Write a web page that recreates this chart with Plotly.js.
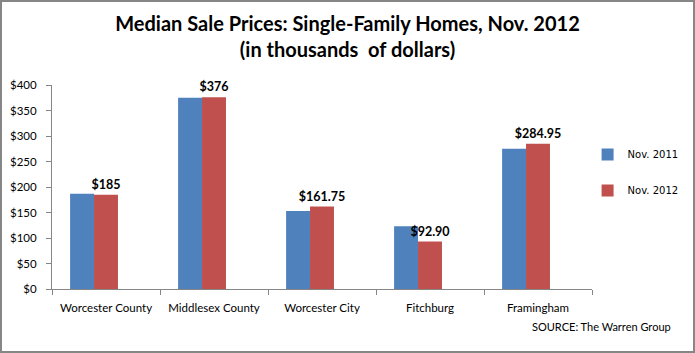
<!DOCTYPE html>
<html>
<head>
<meta charset="utf-8">
<script src="https://cdn.plot.ly/plotly-3.0.1.min.js"></script>
<style>
  html, body { margin: 0; padding: 0; background: #fff; }
  #wrap { position: relative; width: 695px; height: 353px; }
  #chart { position: absolute; left: 0; top: 0; width: 695px; height: 353px; }
  #frame { position: absolute; left: 0; top: 0; width: 695px; height: 353px; box-sizing: border-box;
           border: 2px solid #868686; pointer-events: none; }
</style>
</head>
<body>
<div id="wrap"><div id="chart"></div><div id="frame"></div></div>
<script>
const categories = ["Worcester County", "Middlesex County", "Worcester City", "Fitchburg", "Framingham"];
const nov2011 = [187, 375, 153, 123, 275];
const nov2012 = [185, 376, 161.75, 92.9, 284.95];
const nov2012Labels = ["$185", "$376", "$161.75", "$92.90", "$284.95"];
const emptySeries = [null, null, null, null, null];
const yTickVals = [0, 50, 100, 150, 200, 250, 300, 350, 400];
const yTickText = ["$0", "$50", "$100", "$150", "$200", "$250", "$300", "$350", "$400"];

const baseFont = "Lato, 'Liberation Sans', sans-serif";

const traces = [
  { type: "bar", name: "Nov. 2011", x: categories, y: nov2011, legendgroup: "a",
    marker: { color: "#4F81BD" }, hoverinfo: "skip" },
  { type: "bar", name: "Nov. 2012", x: categories, y: nov2012, legendgroup: "b",
    marker: { color: "#C0504D" }, text: nov2012Labels, textposition: "outside",
    constraintext: "none", cliponaxis: false,
    textfont: { family: baseFont, size: 12.5, color: "#000", weight: "bold" },
    hoverinfo: "skip" },
  { type: "bar", name: "", x: categories, y: emptySeries, showlegend: false, legendgroup: "c",
    marker: { color: "rgba(0,0,0,0)" }, hoverinfo: "skip" }
];

const layout = {
  width: 695, height: 353,
  margin: { l: 52, r: 102, t: 85, b: 64 },
  paper_bgcolor: "#fff", plot_bgcolor: "#fff",
  barmode: "group", bargap: 0.335, bargroupgap: 0,
  showlegend: true,
  font: { family: baseFont, size: 11, color: "#000" },
  title: {
    text: "<b>Median Sale Prices: Single-Family Homes, Nov. 2012<br>(in thousands  of dollars)</b>",
    font: { family: baseFont, size: 20, color: "#000" },
    x: 0.5, xref: "container", xanchor: "center", y: 0.912, yref: "container", yanchor: "top"
  },
  xaxis: {
    type: "category", showgrid: false, zeroline: false,
    showline: true, linecolor: "#868686", linewidth: 1,
    ticks: "outside", tickson: "boundaries", ticklen: 5, tickcolor: "#868686",
    ticklabelstandoff: 8,
    tickfont: { family: baseFont, size: 11.5, color: "#000" }
  },
  yaxis: {
    range: [0, 400], showgrid: false, zeroline: false,
    showline: true, linecolor: "#868686", linewidth: 1,
    ticks: "outside", ticklen: 5, tickcolor: "#868686",
    ticklabelstandoff: 7,
    tickvals: yTickVals, ticktext: yTickText,
    tickfont: { family: baseFont, size: 11.5, color: "#000" }
  },
  legend: {
    x: 0.99, xanchor: "left", y: 0.571, yanchor: "middle",
    font: { family: "'DejaVu Sans', sans-serif", size: 10, color: "#000" },
    itemwidth: 30, tracegroupgap: 17, bgcolor: "rgba(0,0,0,0)"
  },
  annotations: [{
    text: "SOURCE: The Warren Group", xref: "paper", yref: "paper",
    x: 1.15, y: -0.186, xanchor: "right", yanchor: "middle", showarrow: false,
    font: { family: baseFont, size: 11, color: "#000" }
  }]
};

Plotly.newPlot("chart", traces, layout, { displayModeBar: false, staticPlot: true });
</script>
</body>
</html>
